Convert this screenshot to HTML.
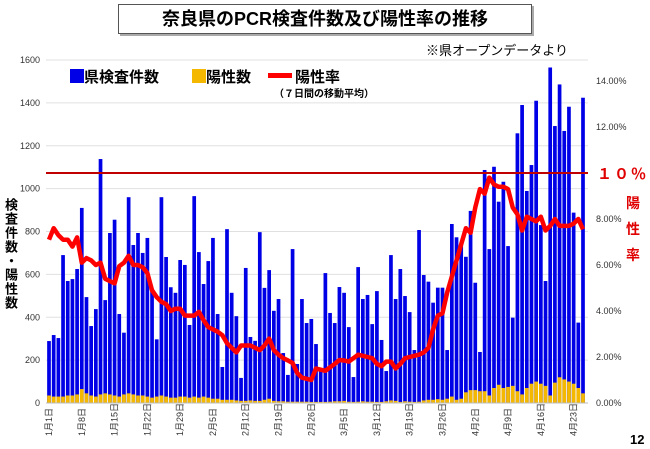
<!DOCTYPE html>
<html><head><meta charset="utf-8">
<style>
body{margin:0;width:650px;height:449px;background:#fff;font-family:"Liberation Sans","Noto Sans CJK JP",sans-serif;overflow:hidden;position:relative}
.abs{position:absolute}
</style></head><body>
<div class="abs" style="left:118px;top:4px;width:412px;height:28px;border:1px solid #555;box-shadow:2px 2px 0 #aaa;text-align:center;line-height:28px;font-weight:bold;font-size:18px;">奈良県のPCR検査件数及び陽性率の推移</div>
<div class="abs" style="left:426px;top:40px;font-size:13px;">※県オープンデータより</div>
<svg id="chart" class="abs" style="left:0;top:0" width="650" height="449"></svg>
<script>
const dates=[];
const tests=[289,317,303,690,569,578,625,910,494,359,438,1138,480,793,855,415,328,960,737,793,700,770,527,297,960,681,540,514,667,644,364,965,704,555,662,770,415,168,811,
514,405,117,630,308,290,797,537,620,430,485,233,131,718,182,485,373,392,275,150,606,420,373,541,514,354,121,634,485,504,368,522,294,149,690,485,625,499,424,247,807,
597,566,468,538,538,247,835,773,742,682,896,561,238,1087,718,1102,939,1032,732,398,1258,1390,989,1110,1410,830,569,1565,1292,1486,1269,1382,888,375,1424];
const positives=[35,30,30,30,35,35,40,65,45,35,30,40,45,40,35,30,40,45,40,35,35,30,25,30,35,30,25,25,30,30,25,
30,25,30,25,20,20,15,15,15,12,10,10,12,10,10,15,20,10,8,8,6,6,6,6,6,5,5,5,
5,6,8,8,10,6,5,6,8,6,6,5,5,8,12,10,5,8,6,5,6,12,15,15,18,15,20,30,15,20,50,
60,60,55,55,35,70,85,70,75,80,55,40,70,90,100,90,80,35,95,120,110,100,90,70,45];
const rate=[7.1,7.6,7.3,7.1,7.1,6.8,7.2,6.1,6.3,6.2,6.0,6.1,5.4,5.3,5.2,5.95,6.1,6.4,6.0,6.0,5.9,5.65,4.9,4.6,4.4,4.3,4.0,4.1,4.1,3.8,3.8,3.8,3.96,3.6,3.3,3.2,3.1,2.95,2.6,2.4,
2.2,2.5,2.5,2.5,2.4,2.3,2.5,2.8,2.3,2.1,1.95,1.85,1.74,1.3,1.1,1.05,1.0,1.5,1.45,1.4,1.55,1.7,1.87,1.85,1.8,1.95,2.1,2.05,2.0,1.95,1.7,1.6,1.8,1.8,1.5,1.7,1.95,2.0,2.05,2.1,
2.2,2.4,3.2,3.8,3.9,4.8,5.5,6.2,6.9,7.6,7.4,8.5,9.3,9.1,9.8,9.5,9.4,9.4,9.3,8.5,8.2,7.5,8.1,8.0,7.9,8.1,7.5,7.7,8.0,7.7,7.7,7.7,7.8,8.0,7.55];
const leftTicks=[0,200,400,600,800,1000,1200,1400,1600];
const rightTicks=[0,2,4,6,8,12,14];
const thresholdPct=10;
(function(){const m=[31,28,31,30];let mo=0,d=1;for(let i=0;i<tests.length;i++){dates.push((mo+1)+"月"+d+"日");d++;if(d>m[mo]){d=1;mo++;}}})();
const svg=document.getElementById('chart');const NS='http://www.w3.org/2000/svg';
const X0=49,X1=583,Y0=403,YT=60;
const x=i=>X0+i*(X1-X0)/(tests.length-1);
const yL=v=>Y0-v*(Y0-YT)/1600;
const yR=p=>Y0-p*23;
function mk(t,a){const e=document.createElementNS(NS,t);for(const k in a)e.setAttribute(k,a[k]);svg.appendChild(e);return e;}
leftTicks.forEach(v=>{
 const g=mk('line',{x1:46,x2:588,y1:yL(v),y2:yL(v),stroke:'#e0e0e0','stroke-width':1});
 
 
 const t=mk('text',{x:40,y:yL(v)+3,'font-size':9,'text-anchor':'end',fill:'#333'});t.textContent=v;
 
 
});
rightTicks.forEach(p=>{
 const t=mk('text',{x:596,y:yR(p)+3,'font-size':9,fill:'#333'});t.textContent=p.toFixed(2)+'%';
 
 
});
const bw=3.7;
tests.forEach((v,i)=>{
 const b=mk('rect',{x:x(i)-bw/2,y:yL(v),width:bw,height:Y0-yL(v),fill:'#0000e6'});
 
 
 const p=positives[i];
 const c=mk('rect',{x:x(i)-bw/2,y:yL(p),width:bw,height:Y0-yL(p),fill:'#f5b800'});
 
 
});
const th=mk('line',{x1:46,x2:588,y1:yR(thresholdPct),y2:yR(thresholdPct),stroke:'#c00000','stroke-width':2});


const ln=mk('polyline',{points:rate.map((r,i)=>x(i)+','+yR(r)).join(' '),fill:'none',stroke:'#ff0000','stroke-width':4.5,'stroke-linejoin':'round'});


mk('line',{x1:46,x2:588,y1:Y0,y2:Y0,stroke:'#bbb','stroke-width':1});
for(let i=0;i<dates.length;i+=7){
 const t=mk('text',{transform:`translate(${x(i)+3},436) rotate(-90)`,'font-size':9,fill:'#333'});t.textContent=dates[i];
 
 
}
</script>
<div class="abs" style="left:70px;top:66px;font-weight:bold;font-size:15px;">
 <span class="abs" style="left:0;top:0;white-space:nowrap"><span style="display:inline-block;width:14px;height:14px;background:#0000e6;vertical-align:-1px"></span>県検査件数</span>
 <span class="abs" style="left:122px;top:0;white-space:nowrap"><span style="display:inline-block;width:14px;height:14px;background:#f5b800;vertical-align:-1px"></span>陽性数</span>
 <span class="abs" style="left:198px;top:0;white-space:nowrap"><span style="display:inline-block;width:24px;height:5px;background:#ff0000;vertical-align:4px;margin-right:3px"></span>陽性率</span>
 <span class="abs" style="left:204px;top:19px;font-size:10px;white-space:nowrap">（７日間の移動平均）</span>
</div>
<div class="abs" style="left:1px;top:198px;writing-mode:vertical-rl;font-weight:bold;font-size:13px;letter-spacing:1px">検査件数・陽性数</div>
<div class="abs" style="left:597px;top:163px;color:#e00000;font-weight:bold;font-size:15px;letter-spacing:2px">１０％</div>
<div class="abs" style="left:626px;top:190px;width:16px;color:#e00000;font-weight:bold;font-size:14px;line-height:26px">陽性率</div>
<div class="abs" style="left:630px;top:432px;font-weight:bold;font-size:13px">12</div>
</body></html>
